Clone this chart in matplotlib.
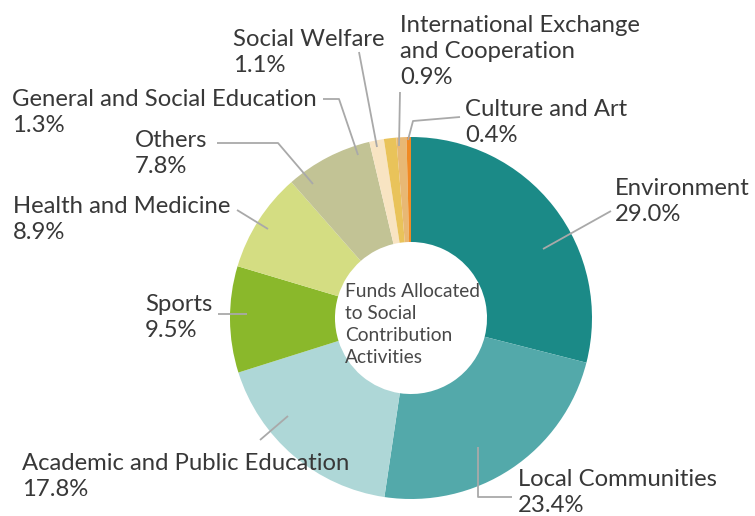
import matplotlib
matplotlib.use('Agg')
import matplotlib.pyplot as plt

W, H = 755, 516

# data
categories = ['Environment', 'Local Communities', 'Academic and Public Education',
              'Sports', 'Health and Medicine', 'Others', 'General and Social Education',
              'Social Welfare', 'International Exchange\nand Cooperation', 'Culture and Art']
shares = [29.0, 23.4, 17.8, 9.5, 8.9, 7.8, 1.3, 1.1, 0.9, 0.4]
center_title = 'Funds Allocated\nto Social\nContribution\nActivities'

colors = ['#1b8a87', '#53a9aa', '#aed7d7', '#8ab82b', '#d4dd82', '#c2c395',
          '#f8e4c2', '#e9c35a', '#e8b874', '#f08a24']

# label anchor (left x, first baseline) and leader lines, in pixels
label_xy = [(615, 195), (518, 486), (22, 470), (145, 311), (13, 213),
            (135, 147), (12, 106), (233, 46), (400, 32), (465, 116)]
leaders = [
    [(611, 211), (543, 249)],
    [(512, 497), (478, 497), (478, 447)],
    [(260, 440), (288, 416)],
    [(218, 314), (247, 314)],
    [(237, 210), (268, 229)],
    [(217, 143), (278, 143), (313, 184)],
    [(323, 99), (339, 99), (358, 155)],
    [(359, 52), (377, 147)],
    [(400, 92), (399, 146)],
    [(460, 117), (413, 121), (408, 140)],
]

plt.rcParams['font.family'] = ['Lato', 'DejaVu Sans']
TXT = '#383838'
LINE = '#a9a9a9'

fig = plt.figure(figsize=(W / 100, H / 100), dpi=100)
ax = fig.add_axes([0, 0, 1, 1])

cx, cy, R = 411, 318, 181
ax.pie(shares, colors=colors, center=(cx, cy), radius=R, startangle=-90,
       counterclock=True, wedgeprops=dict(width=R * 0.58, linewidth=0))

ax.set_xlim(0, W)
ax.set_ylim(H, 0)
ax.set_aspect('equal')
ax.axis('off')

for pts in leaders:
    xs, ys = zip(*pts)
    ax.plot(xs, ys, color=LINE, lw=1.3, solid_capstyle='butt')

LH = 26
for name, val, (x, y) in zip(categories, shares, label_xy):
    lines = name.split('\n') + [f'{val:.1f}%']
    for i, s in enumerate(lines):
        ax.text(x, y + i * LH, s, fontsize=17.2, color=TXT, ha='left', va='baseline')

for i, s in enumerate(center_title.split('\n')):
    ax.text(345, 297 + i * 22, s, fontsize=13.8, color='#484848', ha='left', va='baseline')

fig.savefig('out.png', dpi=100)
